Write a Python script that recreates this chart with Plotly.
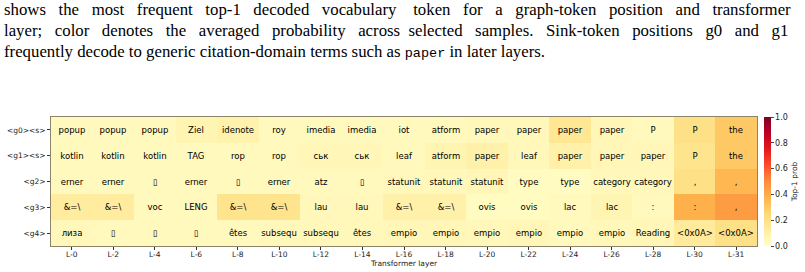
import plotly.graph_objects as go

layers = ["L-0", "L-2", "L-4", "L-6", "L-8", "L-10", "L-12", "L-14", "L-16",
          "L-18", "L-20", "L-22", "L-24", "L-26", "L-28", "L-30", "L-31"]
positions = ["&lt;g0&gt;&lt;s&gt;", "&lt;g1&gt;&lt;s&gt;", "&lt;g2&gt;", "&lt;g3&gt;", "&lt;g4&gt;"]

BOX = "\u25af"
tok_g0 = ["popup", "popup", "popup", "Ziel", "idenote", "roy", "imedia", "imedia", "iot",
          "atform", "paper", "paper", "paper", "paper", "P", "P", "the"]
tok_g1 = ["kotlin", "kotlin", "kotlin", "TAG", "rop", "rop", "ськ", "ськ", "leaf",
          "atform", "paper", "leaf", "paper", "paper", "paper", "P", "the"]
tok_g2 = ["erner", "erner", BOX, "erner", BOX, "erner", "atz", BOX, "statunit",
          "statunit", "statunit", "type", "type", "category", "category", ",", ","]
tok_g3 = ["&amp;=\\", "&amp;=\\", "voc", "LENG", "&amp;=\\", "&amp;=\\", "lau", "lau", "&amp;=\\",
          "&amp;=\\", "ovis", "ovis", "lac", "lac", ":", ":", ","]
tok_g4 = ["лиза", BOX, BOX, BOX, "êtes", "subsequ", "subsequ", "êtes", "empio",
          "empio", "empio", "empio", "empio", "empio", "Reading", "&lt;0x0A&gt;", "&lt;0x0A&gt;"]

p_g0 = [0.04, 0.04, 0.04, 0.07, 0.09, 0.04, 0.04, 0.04, 0.04, 0.04, 0.05, 0.05, 0.16, 0.06, 0.04, 0.20, 0.30]
p_g1 = [0.04, 0.04, 0.04, 0.04, 0.04, 0.04, 0.06, 0.06, 0.04, 0.07, 0.10, 0.05, 0.10, 0.06, 0.06, 0.18, 0.30]
p_g2 = [0.04, 0.04, 0.04, 0.04, 0.04, 0.04, 0.04, 0.04, 0.05, 0.05, 0.06, 0.03, 0.03, 0.05, 0.05, 0.20, 0.36]
p_g3 = [0.13, 0.13, 0.04, 0.04, 0.18, 0.18, 0.05, 0.05, 0.10, 0.10, 0.03, 0.03, 0.04, 0.07, 0.04, 0.38, 0.45]
p_g4 = [0.05, 0.04, 0.04, 0.04, 0.04, 0.05, 0.05, 0.05, 0.06, 0.06, 0.05, 0.06, 0.04, 0.05, 0.06, 0.14, 0.20]

caption_lines = [
    "shows the most frequent top-1 decoded vocabulary token for a graph-token position and transformer",
    "layer; color denotes the averaged probability across selected samples. Sink-token positions g0 and g1",
    "frequently decode to generic citation-domain terms such as <span style=\"font-family:'Liberation Mono';font-size:13.5px\">paper</span> in later layers.",
]
caption_extra = [27, 25, 0]


def justify(line, extra):
    words = line.split(" ")
    gaps = len(words) - 1
    if extra == 0 or gaps == 0:
        return line
    out = words[0]
    used = 0
    for i in range(1, len(words)):
        target = round(extra * i / gaps)
        n = target - used
        used = target
        out += " " + "\u00a0" * n + words[i]
    return out


ylorrd = [[0.0, "#ffffcc"], [0.125, "#ffeda0"], [0.25, "#fed976"], [0.375, "#feb24c"],
          [0.5, "#fd8d3c"], [0.625, "#fc4e2a"], [0.75, "#e31a1c"], [0.875, "#bd0026"],
          [1.0, "#800026"]]

z = [p_g0, p_g1, p_g2, p_g3, p_g4]
text = [tok_g0, tok_g1, tok_g2, tok_g3, tok_g4]

fig = go.Figure(go.Heatmap(
    z=z, x=layers, y=positions, text=text, texttemplate="%{text}",
    textfont=dict(family="DejaVu Sans", size=8.5, color="black"),
    colorscale=ylorrd, zmin=0, zmax=1, xgap=0, ygap=0,
    colorbar=dict(
        x=1.0099, xanchor="left", xref="paper", y=0, yanchor="bottom", len=1, lenmode="fraction",
        ypad=0, xpad=0, thickness=7, outlinewidth=0, ticks="outside", ticklen=3, tickwidth=0.8,
        tickvals=[0, 0.2, 0.4, 0.6, 0.8, 1.0], tickformat=".1f",
        tickfont=dict(family="DejaVu Sans", size=8, color="#222"),
        title=dict(text="Top-1 prob", side="right", font=dict(family="DejaVu Sans", size=7.5, color="#222")),
    ),
))

fig.update_xaxes(automargin=False, ticks="outside", ticklen=3, tickwidth=0.8, tickcolor="#333",
                 ticklabelstandoff=-2,
                 tickfont=dict(family="DejaVu Sans", size=7.5, color="#222"),
                 title=dict(text="Transformer layer", standoff=0,
                            font=dict(family="DejaVu Sans", size=7.5, color="#222")),
                 showline=True, mirror=True, linecolor="#8c8468", linewidth=1)
fig.update_yaxes(automargin=False, autorange="reversed", ticks="outside", ticklen=3, tickwidth=0.8,
                 tickcolor="#333",
                 tickfont=dict(family="DejaVu Sans", size=7.5, color="#222"),
                 showline=True, mirror=True, linecolor="#8c8468", linewidth=1)

for i, line in enumerate(caption_lines):
    fig.add_annotation(text=justify(line, caption_extra[i]), xref="paper", yref="paper",
                       x=-49 / 706, xanchor="left",
                       y=1 + (117 - 10 - 21 * i) / 128, yanchor="middle", showarrow=False,
                       font=dict(family="Liberation Serif", size=16.8, color="black"))

fig.update_layout(width=805, height=272, margin=dict(l=51, r=48, t=117, b=26, autoexpand=False),
                  paper_bgcolor="white", plot_bgcolor="white")

fig.write_html("out.html")
